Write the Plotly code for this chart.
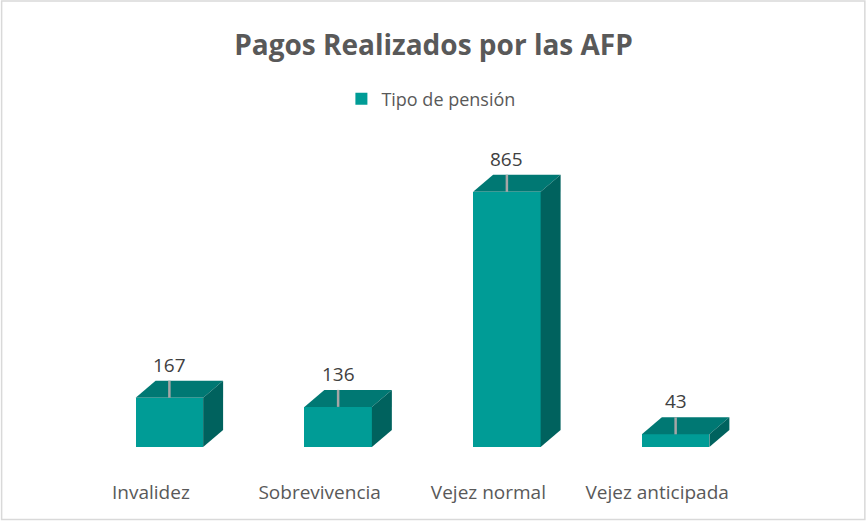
import plotly.graph_objects as go

categories = ["Invalidez", "Sobrevivencia", "Vejez normal", "Vejez anticipada"]
values = [167, 136, 865, 43]
series_name = "Tipo de pensión"
title_text = "Pagos Realizados por las AFP"

FRONT = "#009C96"
TOP = "#007873"
SIDE = "#00625E"
LEADER = "#A6A6A6"
TXT = "#595959"

W, H = 867, 522
L, R, T, B = 84.5, 106.5, 152, 75
plot_w = W - L - R
plot_h = H - T - B
xmin, xmax = -0.5, len(categories) - 0.5
ymin, ymax = 0, 1000

bar_w = 0.40
# 3D depth offsets, converted from pixels into data units
dx = 20 / plot_w * (xmax - xmin)
dy = 17 / plot_h * (ymax - ymin)
label_shift = 18.5 / plot_w * (xmax - xmin)

xs = list(range(len(categories)))
fig = go.Figure()

fig.add_trace(go.Bar(
    x=xs, y=values, width=bar_w, name=series_name,
    marker=dict(color=FRONT, line=dict(width=0)),
    showlegend=True, hoverinfo="skip",
))

for i, v in zip(xs, values):
    xl, xr = i - bar_w / 2, i + bar_w / 2
    # top face
    fig.add_trace(go.Scatter(
        x=[xl, xr, xr + dx, xl + dx, xl], y=[v, v, v + dy, v + dy, v],
        fill="toself", fillcolor=TOP, mode="lines", line=dict(width=0, color=TOP),
        showlegend=False, hoverinfo="skip"))
    # side face
    fig.add_trace(go.Scatter(
        x=[xr, xr, xr + dx, xr + dx, xr], y=[0, v, v + dy, dy, 0],
        fill="toself", fillcolor=SIDE, mode="lines", line=dict(width=0, color=SIDE),
        showlegend=False, hoverinfo="skip"))
    # leader line
    fig.add_trace(go.Scatter(
        x=[i, i], y=[v, v + dy], mode="lines", line=dict(width=2.5, color=LEADER),
        showlegend=False, hoverinfo="skip", cliponaxis=False))
    fig.add_annotation(x=i, y=v + dy, text=str(v), showarrow=False,
                       yanchor="bottom", yshift=1,
                       font=dict(family="Open Sans", size=19, color="#404040"))

fig.update_layout(
    width=W, height=H,
    margin=dict(l=L, r=R, t=T, b=B, pad=0),
    paper_bgcolor="white", plot_bgcolor="white",
    title=dict(text="<b>" + title_text + "</b>", x=0.5, xanchor="center",
               xref="container", y=1 - 45 / H, yref="container", yanchor="middle",
               font=dict(family="Open Sans", size=28, color=TXT)),
    legend=dict(orientation="h", x=0.497, xanchor="center", xref="container",
                y=1 - 99 / H, yref="container", yanchor="middle",
                font=dict(family="Open Sans", size=18, color=TXT),
                itemwidth=30, bgcolor="rgba(0,0,0,0)"),
    xaxis=dict(range=[xmin, xmax], tickvals=[i - label_shift for i in xs],
               ticktext=categories, showgrid=False, zeroline=False, showline=False,
               ticks="outside", ticklen=28, tickcolor="rgba(0,0,0,0)",
               tickfont=dict(family="Open Sans", size=19, color=TXT), fixedrange=True),
    yaxis=dict(range=[ymin, ymax], visible=False, showgrid=False, zeroline=False),
    showlegend=True,
    bargap=0,
)

# light chart border (pixel box converted to paper units)
fig.add_shape(type="rect", xref="paper", yref="paper",
              x0=(1 - L) / plot_w, x1=(W - 1.5 - L) / plot_w,
              y0=(T + plot_h - (H - 2.5)) / plot_h,
              y1=(T + plot_h - 1) / plot_h,
              line=dict(color="#D9D9D9", width=1.5), fillcolor="rgba(0,0,0,0)")

fig.write_html("out.html", config={"displayModeBar": False},
               post_script="document.body.style.margin='0';document.body.style.overflow='hidden';")
